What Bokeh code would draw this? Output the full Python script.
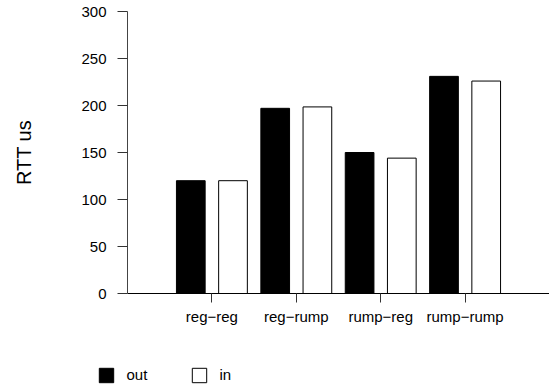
from bokeh.plotting import figure
from bokeh.models import Range1d, FixedTicker, Legend, LegendItem, ColumnDataSource
from bokeh.transform import dodge
from bokeh.embed import file_html
from bokeh.resources import INLINE
import numpy as np

categories = ["reg\u2212reg", "reg\u2212rump", "rump\u2212reg", "rump\u2212rump"]
out_vals = [120, 197, 150, 231]
in_vals = [120, 198.5, 144, 226]
series_names = ["out", "in"]
y_ticks = [0, 50, 100, 150, 200, 250, 300]

FONT = "Liberation Sans"
W, H = 549, 391
idx = np.arange(len(categories))

# layout: the frame fills the whole canvas; axes are pinned inside it
x_px_per_unit = 84.4
x_axis_start = -1.0
x_left_px = 127
x_start = x_axis_start - x_left_px / x_px_per_unit
x_end = x_start + W / x_px_per_unit

y_px_per_unit = 0.94
y_top_px, y_zero_px = 11, 293
y_end = 300 + y_top_px / y_px_per_unit
y_start = -(H - y_zero_px) / y_px_per_unit

p = figure(width=W, height=H, output_backend="svg", toolbar_location=None,
           x_range=Range1d(x_start, x_end), y_range=Range1d(y_start, y_end),
           min_border=0, min_border_left=0, min_border_right=0,
           min_border_top=0, min_border_bottom=0)
p.outline_line_color = None
p.grid.visible = False
p.background_fill_color = "white"
p.border_fill_color = "white"

src = ColumnDataSource(dict(x=idx, out=out_vals, inn=in_vals))
r_out = p.vbar(x=dodge("x", -0.25), top="out", width=0.34, source=src,
               fill_color="black", line_color="black", line_width=1)
r_in = p.vbar(x=dodge("x", 0.25), top="inn", width=0.34, source=src,
              fill_color="white", line_color="black", line_width=1)

# y axis
ya = p.yaxis[0]
ya.fixed_location = x_axis_start
ya.bounds = (0, 300)
ya.ticker = FixedTicker(ticks=y_ticks)
ya.minor_tick_line_color = None
ya.major_tick_out = 10
ya.major_tick_in = 0
ya.major_label_standoff = 11
ya.major_label_text_font = FONT
ya.major_label_text_font_size = "15px"
ya.major_label_text_color = "black"
ya.axis_line_color = "#444444"
ya.major_tick_line_color = "#333333"
ya.axis_label = "RTT us"
ya.axis_label_text_font = FONT
ya.axis_label_text_font_size = "20px"
ya.axis_label_text_font_style = "normal"
ya.axis_label_text_color = "black"
ya.axis_label_standoff = 43

# x axis
xa = p.xaxis[0]
xa.fixed_location = 0
xa.bounds = (x_axis_start, x_end)
xa.ticker = FixedTicker(ticks=list(idx))
xa.major_label_overrides = {int(i): c for i, c in zip(idx, categories)}
xa.minor_tick_line_color = None
xa.major_tick_out = 9
xa.major_tick_in = 0
xa.major_label_standoff = 5
xa.major_label_text_font = FONT
xa.major_label_text_font_size = "15px"
xa.major_label_text_color = "black"
xa.axis_line_color = "black"
xa.major_tick_line_color = "#333333"

legend = Legend(items=[LegendItem(label=series_names[0], renderers=[r_out]),
                       LegendItem(label=series_names[1], renderers=[r_in])],
                location=(96.5, H - 383.5), orientation="horizontal",
                glyph_width=18, glyph_height=18, label_height=18, label_width=22,
                label_standoff=12, spacing=41, padding=0, margin=0,
                border_line_color=None, background_fill_alpha=0,
                label_text_font=FONT, label_text_font_size="15px",
                label_text_color="black")
p.add_layout(legend, "center")

open("out.html", "w").write(file_html(p, INLINE))
